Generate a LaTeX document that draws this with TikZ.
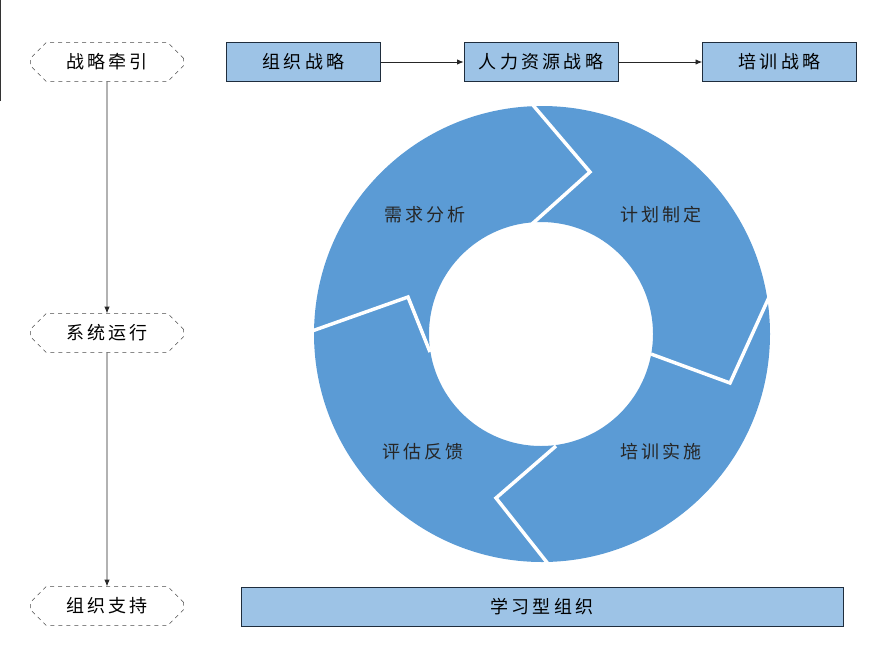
\documentclass[tikz,border=0pt]{standalone}
\usepackage{fontspec}
\setmainfont{Noto Sans CJK SC}[LetterSpace=18]
\usetikzlibrary{shapes.misc,arrows.meta}
\definecolor{ring}{HTML}{5B9BD5}
\definecolor{boxfill}{HTML}{9DC3E6}
\definecolor{boxline}{HTML}{1F2D3D}
\tikzset{
  topbox/.style={draw=boxline,fill=boxfill,minimum width=115.5pt,minimum height=29pt,inner sep=0pt,font=\fontsize{13.5}{15}\selectfont},
  hexa/.style={draw=black!70,dashed,chamfered rectangle,chamfered rectangle xsep=18pt,minimum width=115pt,minimum height=29pt,inner sep=2pt,font=\fontsize{13.5}{15}\selectfont},
  lab/.style={font=\fontsize{13.5}{15}\selectfont,text=black!85},
  sep/.style={white,line width=2.6pt,line join=miter},
  conn/.style={-{Latex[length=5pt,width=4pt]},black!85,line width=0.6pt}
}
\begin{document}
\begin{tikzpicture}[x=0.75pt,y=-0.75pt]
\useasboundingbox (0,0) rectangle (887,668);
% left column
\node[hexa] (h1) at (107,62) {战略牵引};
\node[hexa] (h2) at (107,333) {系统运行};
\node[hexa] (h3) at (107,606) {组织支持};
\draw[conn] (h1) -- (h2);
\draw[conn] (h2) -- (h3);
% top boxes
\node[topbox] (b1) at (303.5,62) {组织战略};
\node[topbox] (b2) at (541,62) {人力资源战略};
\node[topbox] (b3) at (779.5,62) {培训战略};
\draw[conn] (b1) -- (b2);
\draw[conn] (b2) -- (b3);
% bottom box
\node[topbox,minimum width=451.5pt] (b4) at (542,606.5) {学习型组织};
% ring
\fill[ring,even odd rule] (542,334) circle[radius=228] (541,334) circle[radius=112];
\draw[sep] (532,104) -- (590,172) -- (532,224);
\draw[sep] (770,295) -- (730,383) -- (651,354);
\draw[sep] (549,565) -- (496,498) -- (556,446);
\draw[sep] (312,331) -- (408,297) -- (430,352);
\node[lab] (n1) at (425,215) {需求分析};
\node[lab] (n2) at (661,215) {计划制定};
\node[lab] (n3) at (423,452) {评估反馈};
\node[lab] (n4) at (661,452) {培训实施};
% gear
\draw[black!80,line width=0.5pt] plot[samples at={0,...,11}] coordinates {} 
  (90:101) -- (0,0);
\end{tikzpicture}
\end{document}
